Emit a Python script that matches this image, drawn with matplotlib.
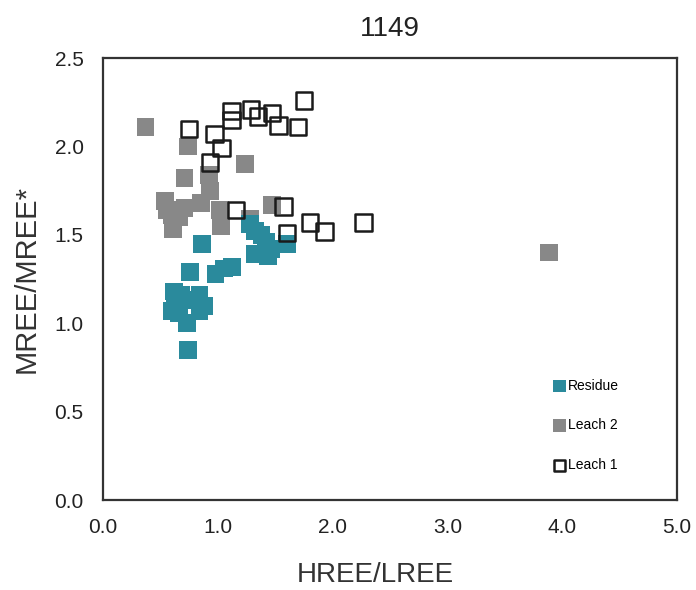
import matplotlib
matplotlib.use("Agg")
import matplotlib.pyplot as plt

plt.rcParams['font.family'] = ['Liberation Sans', 'DejaVu Sans']

# Residue (teal filled squares)
residue_x = [0.86, 0.76, 0.98, 1.05, 1.12, 1.32, 1.44, 1.32, 1.42, 1.46, 1.60,
             0.62, 0.68, 0.60, 0.66, 0.84, 0.88, 0.84, 0.73, 0.74, 0.80, 0.63,
             1.28, 1.38]
residue_y = [1.45, 1.29, 1.28, 1.31, 1.32, 1.39, 1.38, 1.52, 1.46, 1.42, 1.45,
             1.18, 1.16, 1.07, 1.06, 1.16, 1.10, 1.07, 1.00, 0.85, 1.13, 1.12,
             1.56, 1.50]

# Leach 2 (gray filled squares)
leach2_x = [0.37, 0.74, 1.24, 0.71, 0.92, 0.93, 0.54, 0.71, 0.60, 0.61,
            1.02, 1.03, 1.28, 1.47, 0.56, 0.66, 0.85, 3.88]
leach2_y = [2.11, 2.00, 1.90, 1.82, 1.84, 1.75, 1.69, 1.65, 1.61, 1.53,
            1.64, 1.55, 1.59, 1.67, 1.64, 1.60, 1.68, 1.40]

# Leach 1 (open squares)
leach1_x = [0.75, 0.97, 1.03, 0.93, 1.12, 1.12, 1.29, 1.35, 1.47, 1.53,
            1.70, 1.75, 1.16, 1.57, 1.60, 1.80, 1.93, 2.27]
leach1_y = [2.10, 2.07, 1.99, 1.91, 2.20, 2.15, 2.21, 2.17, 2.19, 2.12,
            2.11, 2.26, 1.64, 1.66, 1.51, 1.57, 1.52, 1.57]

fig = plt.figure(figsize=(6.96, 5.90), dpi=100)
ax = fig.add_axes([0.148, 0.1525, 0.825, 0.749])

ax.scatter(leach2_x, leach2_y, marker="s", s=165, color="#888888",
           edgecolors="none", label="Leach 2", zorder=2)
ax.scatter(residue_x, residue_y, marker="s", s=165, color="#2a8a9c",
           edgecolors="none", label="Residue", zorder=3)
ax.scatter(leach1_x, leach1_y, marker="s", s=140, facecolors="none",
           edgecolors="#1a1a1a", linewidths=1.8, label="Leach 1", zorder=4)

ax.set_xlim(0, 5)
ax.set_ylim(0, 2.5)
ax.set_xticks([0, 1, 2, 3, 4, 5])
ax.set_xticklabels(["0.0", "1.0", "2.0", "3.0", "4.0", "5.0"])
ax.set_yticks([0, 0.5, 1.0, 1.5, 2.0, 2.5])
ax.set_yticklabels(["0.0", "0.5", "1.0", "1.5", "2.0", "2.5"])
ax.tick_params(axis="both", length=0, labelsize=15, labelcolor="#222222")
ax.tick_params(axis="x", pad=13)
ax.tick_params(axis="y", pad=14)

for sp in ax.spines.values():
    sp.set_color("#333333")
    sp.set_linewidth(1.6)

ax.set_xlabel("HREE/LREE", fontsize=20, color="#333333")
ax.xaxis.set_label_coords(0.474, -0.14)
ax.set_ylabel("MREE/MREE*", fontsize=21, color="#333333", labelpad=10)
ax.set_title("1149", fontsize=20, color="#222222", pad=16)

handles, labels = ax.get_legend_handles_labels()
order = [1, 0, 2]
ax.legend([handles[i] for i in order], [labels[i] for i in order],
          loc="lower right", bbox_to_anchor=(0.92, 0.035), frameon=False,
          fontsize=10, labelspacing=1.85, handletextpad=0.1,
          markerscale=0.7, handlelength=1.0)

fig.savefig("out.png", dpi=100)
